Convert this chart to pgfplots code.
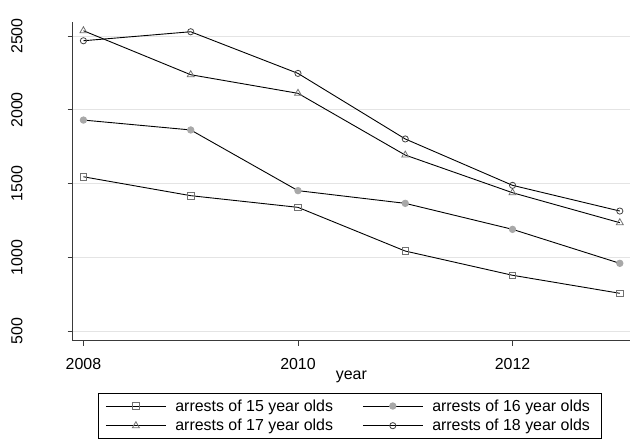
\documentclass[border=0pt]{standalone}
\usepackage{pgfplots}
\pgfplotsset{compat=1.18}
\usepackage{fontspec}
\setmainfont{Liberation Sans}

\definecolor{gridgray}{HTML}{E4E4E4}
\definecolor{axisgray}{HTML}{3A3A3A}
\definecolor{markgray}{HTML}{707070}
\definecolor{dotgray}{HTML}{A8A8A8}
\definecolor{ringgray}{HTML}{404040}

\pgfplotstableread{
year a15  a16  a17  a18
2008 1547 1931 2536 2468
2009 1419 1864 2238 2529
2010 1340 1453 2112 2247
2011 1044 1367 1694 1803
2012  880 1191 1439 1489
2013  758  961 1236 1315
}\arrests

\begin{document}
\begin{tikzpicture}
\useasboundingbox (-72.7bp,-104.3bp) rectangle (561.3bp,340.7bp);
\begin{axis}[
  scale only axis,
  width=557.3bp, height=318.7bp,
  xmin=2007.9, xmax=2013.095,
  ymin=437, ymax=2595,
  axis x line*=bottom, axis y line*=left,
  axis line style={axisgray, line width=0.9bp},
  tick style={axisgray, line width=0.8bp},
  tick align=outside,
  major tick length=5bp,
  xtick={2008,2010,2012},
  ytick={500,1000,1500,2000,2500},
  ymajorgrids,
  major grid style={gridgray, line width=0.8bp},
  /pgf/number format/assume math mode=true,
  /pgf/number format/1000 sep={},
  font=\fontsize{16}{19}\selectfont,
  xticklabel style={inner sep=0pt, anchor=base, yshift=-24bp},
  yticklabel style={rotate=90, inner sep=0pt, anchor=base, yshift=45.4bp},
  xlabel={year},
  xlabel style={inner sep=0pt, at={(axis description cs:0.5,0)}, anchor=base, yshift=-38.6bp},
  legend columns=2,
  legend cell align=left,
  legend style={
    at={(axis description cs:0.4975,-0.1632)}, anchor=north,
    draw=black, line width=0.8bp,
    inner xsep=7bp, inner ysep=3.1bp,
    column sep=0bp, row sep=0bp,
    nodes={inner xsep=4.5bp, inner ysep=3.3bp},
    /tikz/every odd column/.append style={column sep=4.5bp},
    /tikz/every even column/.append style={column sep=24.8bp},
  },
  legend image code/.code={
    \draw[mark repeat=2, mark phase=2] plot coordinates {(0bp,0bp) (30bp,0bp) (60bp,0bp)};
  },
  every axis plot/.append style={black, line width=0.9bp},
]
\addplot[mark=square, mark size=3.3bp, mark options={markgray, line width=0.8bp, solid}]
  table[x=year, y=a15] {\arrests};
\addlegendentry{arrests of 15 year olds}
\addplot[mark=*, mark size=3.2bp, mark options={dotgray, draw=dotgray, fill=dotgray}]
  table[x=year, y=a16] {\arrests};
\addlegendentry{arrests of 16 year olds}
\addplot[mark=triangle, mark size=4bp, mark options={markgray, line width=0.8bp}]
  table[x=year, y=a17] {\arrests};
\addlegendentry{arrests of 17 year olds}
\addplot[mark=o, mark size=3.1bp, mark options={ringgray, line width=0.8bp}]
  table[x=year, y=a18] {\arrests};
\addlegendentry{arrests of 18 year olds}
\end{axis}
\end{tikzpicture}
\end{document}
